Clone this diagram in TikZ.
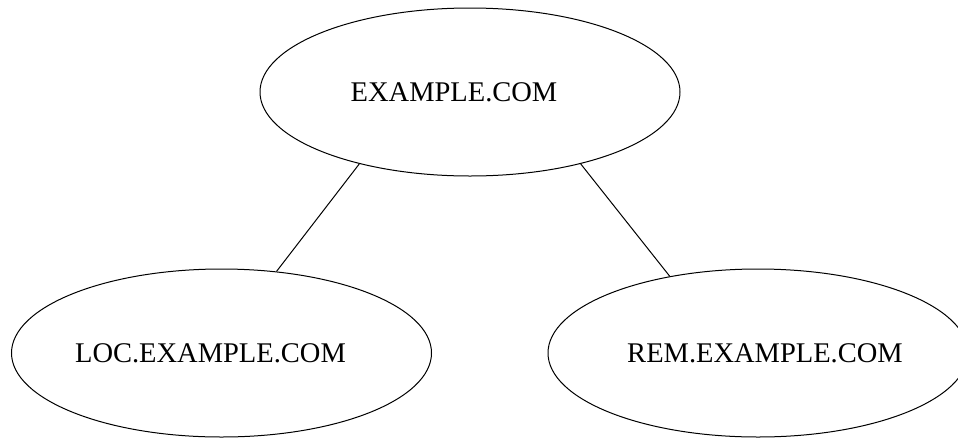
\documentclass[tikz,border=0pt]{standalone}
\usepackage{fontspec}
\setmainfont{Liberation Serif}
\usetikzlibrary{shapes.geometric}
\tikzset{
    realm/.style={draw, ellipse, line width=1pt, minimum width=420pt,
                  minimum height=168pt, inner sep=0pt,
                  font=\fontsize{28.5}{34}\selectfont},
    trust/.style={line width=1pt}
}
\begin{document}
\begin{tikzpicture}[x=1pt,y=1pt]
        \useasboundingbox (0,0) rectangle (958,-440);
        \node[realm, label={[xshift=-16pt,font=\fontsize{28.5}{34}\selectfont]center:EXAMPLE.COM}] (root) at (470,-92) {};
        \node[realm, label={[xshift=-11pt,font=\fontsize{28.5}{34}\selectfont]center:LOC.EXAMPLE.COM}] (loc) at (221.5,-353) {};
        \node[realm, label={[xshift=7pt,font=\fontsize{28.5}{34}\selectfont]center:REM.EXAMPLE.COM}] (rem) at (758,-353) {};
        \draw[trust] (root.213) -- (loc.56);
        \draw[trust] (root.-33) -- (rem.139);
\end{tikzpicture}
\end{document}
